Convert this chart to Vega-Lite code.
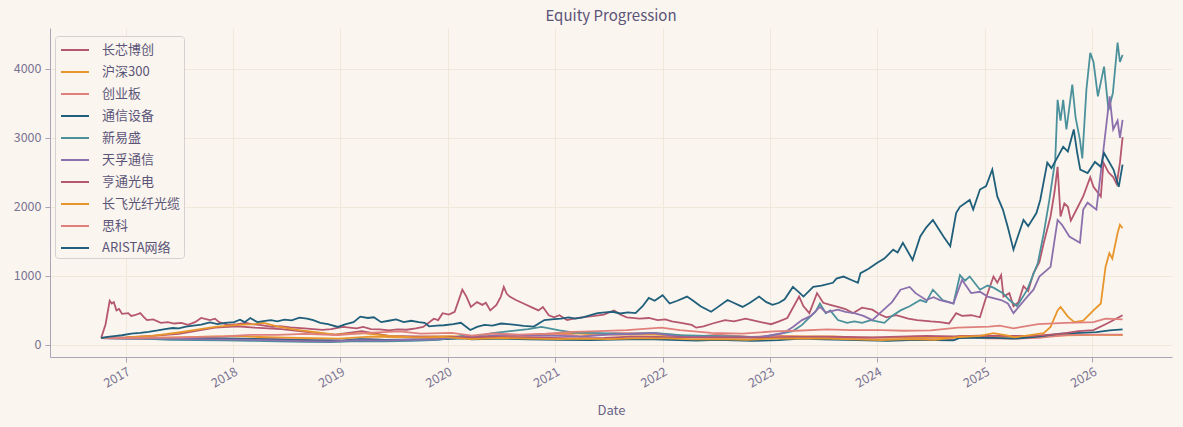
{
"$schema": "https://vega.github.io/schema/vega-lite/v6.json",
"width": 1183, "height": 427,
"autosize": {"type": "fit", "contains": "padding"},
"padding": {"left": 13, "right": 11, "top": 9, "bottom": 9},
"background": "#faf5ee",
"title": {"text": "Equity Progression", "fontSize": 15, "font": "Noto Sans CJK SC", "fontWeight": "normal", "color": "#5a5478", "offset": 4},
"config": {
  "view": {"stroke": null},
  "font": "Noto Sans CJK SC",
  "axis": {"gridColor": "#f1e8dc", "gridWidth": 1, "domainColor": "#aaa4b8", "tickColor": "#aaa4b8", "tickSize": 5, "labelColor": "#7a7494", "labelFontSize": 12.5, "titleColor": "#6a6488", "titleFontSize": 13, "titleFontWeight": "normal", "labelFont": "Noto Sans CJK SC", "titleFont": "Noto Sans CJK SC"},
  "legend": {"fillColor": "#faf5ee", "strokeColor": "#d6d0d0", "cornerRadius": 3, "padding": 3, "symbolType": "M-0.8,0H2", "symbolStrokeWidth": 2, "symbolSize": 400, "labelFontSize": 13, "labelColor": "#5a5478", "rowPadding": 4, "labelOffset": 22, "labelFont": "Noto Sans CJK SC"}
},
"data": {"values": [
{"s":"长芯博创","d":"2016-10-10","v":100},{"s":"长芯博创","d":"2016-10-25","v":300},{"s":"长芯博创","d":"2016-11-08","v":640},{"s":"长芯博创","d":"2016-11-15","v":600},{"s":"长芯博创","d":"2016-11-22","v":620},{"s":"长芯博创","d":"2016-12-01","v":500},{"s":"长芯博创","d":"2016-12-10","v":520},{"s":"长芯博创","d":"2016-12-20","v":450},{"s":"长芯博创","d":"2017-01-10","v":460},{"s":"长芯博创","d":"2017-01-20","v":420},{"s":"长芯博创","d":"2017-02-01","v":430},{"s":"长芯博创","d":"2017-02-20","v":460},{"s":"长芯博创","d":"2017-03-05","v":400},{"s":"长芯博创","d":"2017-03-15","v":360},{"s":"长芯博创","d":"2017-04-05","v":370},{"s":"长芯博创","d":"2017-05-01","v":320},{"s":"长芯博创","d":"2017-05-25","v":330},{"s":"长芯博创","d":"2017-06-15","v":310},{"s":"长芯博创","d":"2017-07-10","v":320},{"s":"长芯博创","d":"2017-08-01","v":290},{"s":"长芯博创","d":"2017-08-25","v":330},{"s":"长芯博创","d":"2017-09-15","v":390},{"s":"长芯博创","d":"2017-10-15","v":360},{"s":"长芯博创","d":"2017-11-01","v":380},{"s":"长芯博创","d":"2017-11-15","v":330},{"s":"长芯博创","d":"2017-12-15","v":290},{"s":"长芯博创","d":"2018-01-15","v":300},{"s":"长芯博创","d":"2018-02-15","v":320},{"s":"长芯博创","d":"2018-03-05","v":300},{"s":"长芯博创","d":"2018-04-01","v":290},{"s":"长芯博创","d":"2018-05-15","v":260},{"s":"长芯博创","d":"2018-06-10","v":270},{"s":"长芯博创","d":"2018-07-15","v":255},{"s":"长芯博创","d":"2018-09-01","v":240},{"s":"长芯博创","d":"2018-10-01","v":230},{"s":"长芯博创","d":"2018-11-01","v":217},{"s":"长芯博创","d":"2018-12-01","v":230},{"s":"长芯博创","d":"2019-01-10","v":260},{"s":"长芯博创","d":"2019-02-25","v":240},{"s":"长芯博创","d":"2019-03-20","v":260},{"s":"长芯博创","d":"2019-04-15","v":230},{"s":"长芯博创","d":"2019-05-15","v":225},{"s":"长芯博创","d":"2019-06-15","v":210},{"s":"长芯博创","d":"2019-07-15","v":225},{"s":"长芯博创","d":"2019-08-15","v":220},{"s":"长芯博创","d":"2019-09-15","v":240},{"s":"长芯博创","d":"2019-10-10","v":260},{"s":"长芯博创","d":"2019-11-15","v":380},{"s":"长芯博创","d":"2019-11-30","v":360},{"s":"长芯博创","d":"2019-12-15","v":460},{"s":"长芯博创","d":"2020-01-05","v":440},{"s":"长芯博创","d":"2020-01-25","v":480},{"s":"长芯博创","d":"2020-02-20","v":800},{"s":"长芯博创","d":"2020-03-05","v":700},{"s":"长芯博创","d":"2020-03-20","v":550},{"s":"长芯博创","d":"2020-04-10","v":620},{"s":"长芯博创","d":"2020-04-28","v":580},{"s":"长芯博创","d":"2020-05-10","v":610},{"s":"长芯博创","d":"2020-05-25","v":500},{"s":"长芯博创","d":"2020-06-15","v":580},{"s":"长芯博创","d":"2020-06-30","v":700},{"s":"长芯博创","d":"2020-07-10","v":840},{"s":"长芯博创","d":"2020-07-20","v":740},{"s":"长芯博创","d":"2020-07-30","v":700},{"s":"长芯博创","d":"2020-08-20","v":650},{"s":"长芯博创","d":"2020-09-15","v":600},{"s":"长芯博创","d":"2020-10-15","v":540},{"s":"长芯博创","d":"2020-11-05","v":500},{"s":"长芯博创","d":"2020-11-20","v":550},{"s":"长芯博创","d":"2020-12-10","v":430},{"s":"长芯博创","d":"2020-12-28","v":400},{"s":"长芯博创","d":"2021-01-15","v":430},{"s":"长芯博创","d":"2021-02-10","v":360},{"s":"长芯博创","d":"2021-03-05","v":380},{"s":"长芯博创","d":"2021-04-01","v":400},{"s":"长芯博创","d":"2021-05-15","v":420},{"s":"长芯博创","d":"2021-06-15","v":440},{"s":"长芯博创","d":"2021-07-20","v":500},{"s":"长芯博创","d":"2021-08-10","v":440},{"s":"长芯博创","d":"2021-09-01","v":400},{"s":"长芯博创","d":"2021-10-15","v":380},{"s":"长芯博创","d":"2021-11-15","v":390},{"s":"长芯博创","d":"2021-12-15","v":360},{"s":"长芯博创","d":"2022-01-10","v":370},{"s":"长芯博创","d":"2022-02-01","v":340},{"s":"长芯博创","d":"2022-03-05","v":320},{"s":"长芯博创","d":"2022-04-10","v":290},{"s":"长芯博创","d":"2022-04-25","v":250},{"s":"长芯博创","d":"2022-05-20","v":270},{"s":"长芯博创","d":"2022-06-20","v":310},{"s":"长芯博创","d":"2022-08-01","v":360},{"s":"长芯博创","d":"2022-09-01","v":340},{"s":"长芯博创","d":"2022-10-10","v":380},{"s":"长芯博创","d":"2022-11-01","v":360},{"s":"长芯博创","d":"2022-12-01","v":330},{"s":"长芯博创","d":"2023-01-05","v":300},{"s":"长芯博创","d":"2023-02-01","v":340},{"s":"长芯博创","d":"2023-03-01","v":390},{"s":"长芯博创","d":"2023-04-10","v":700},{"s":"长芯博创","d":"2023-04-25","v":560},{"s":"长芯博创","d":"2023-05-15","v":460},{"s":"长芯博创","d":"2023-06-10","v":750},{"s":"长芯博创","d":"2023-07-01","v":610},{"s":"长芯博创","d":"2023-07-25","v":580},{"s":"长芯博创","d":"2023-08-20","v":550},{"s":"长芯博创","d":"2023-09-15","v":520},{"s":"长芯博创","d":"2023-10-10","v":460},{"s":"长芯博创","d":"2023-11-10","v":540},{"s":"长芯博创","d":"2023-12-15","v":510},{"s":"长芯博创","d":"2024-01-10","v":440},{"s":"长芯博创","d":"2024-02-01","v":400},{"s":"长芯博创","d":"2024-03-05","v":430},{"s":"长芯博创","d":"2024-04-15","v":380},{"s":"长芯博创","d":"2024-05-15","v":360},{"s":"长芯博创","d":"2024-07-01","v":340},{"s":"长芯博创","d":"2024-08-01","v":330},{"s":"长芯博创","d":"2024-09-01","v":310},{"s":"长芯博创","d":"2024-09-25","v":460},{"s":"长芯博创","d":"2024-10-15","v":420},{"s":"长芯博创","d":"2024-11-15","v":430},{"s":"长芯博创","d":"2024-12-15","v":400},{"s":"长芯博创","d":"2025-01-02","v":650},{"s":"长芯博创","d":"2025-01-30","v":990},{"s":"长芯博创","d":"2025-02-12","v":900},{"s":"长芯博创","d":"2025-02-25","v":1010},{"s":"长芯博创","d":"2025-03-05","v":700},{"s":"长芯博创","d":"2025-03-25","v":750},{"s":"长芯博创","d":"2025-04-08","v":560},{"s":"长芯博创","d":"2025-04-25","v":620},{"s":"长芯博创","d":"2025-05-12","v":850},{"s":"长芯博创","d":"2025-05-28","v":780},{"s":"长芯博创","d":"2025-06-15","v":1040},{"s":"长芯博创","d":"2025-07-05","v":1200},{"s":"长芯博创","d":"2025-07-20","v":1480},{"s":"长芯博创","d":"2025-08-12","v":1860},{"s":"长芯博创","d":"2025-08-25","v":2200},{"s":"长芯博创","d":"2025-09-05","v":2580},{"s":"长芯博创","d":"2025-09-15","v":1860},{"s":"长芯博创","d":"2025-09-28","v":2050},{"s":"长芯博创","d":"2025-10-10","v":2000},{"s":"长芯博创","d":"2025-10-20","v":1800},{"s":"长芯博创","d":"2025-11-01","v":1900},{"s":"长芯博创","d":"2025-12-01","v":2150},{"s":"长芯博创","d":"2025-12-25","v":2430},{"s":"长芯博创","d":"2026-01-05","v":2290},{"s":"长芯博创","d":"2026-01-30","v":2150},{"s":"长芯博创","d":"2026-02-08","v":2640},{"s":"长芯博创","d":"2026-02-25","v":2500},{"s":"长芯博创","d":"2026-03-13","v":2430},{"s":"长芯博创","d":"2026-03-25","v":2330},{"s":"长芯博创","d":"2026-04-05","v":2640},{"s":"长芯博创","d":"2026-04-14","v":3010},

{"s":"沪深300","d":"2016-10-10","v":100},{"s":"沪深300","d":"2017-01-01","v":100},{"s":"沪深300","d":"2017-04-01","v":104},{"s":"沪深300","d":"2017-07-01","v":110},{"s":"沪深300","d":"2017-10-01","v":118},{"s":"沪深300","d":"2018-01-20","v":128},{"s":"沪深300","d":"2018-04-01","v":115},{"s":"沪深300","d":"2018-07-01","v":104},{"s":"沪深300","d":"2018-10-01","v":98},{"s":"沪深300","d":"2018-12-28","v":90},{"s":"沪深300","d":"2019-04-15","v":120},{"s":"沪深300","d":"2019-07-01","v":115},{"s":"沪深300","d":"2019-10-01","v":117},{"s":"沪深300","d":"2020-01-15","v":127},{"s":"沪深300","d":"2020-03-20","v":112},{"s":"沪深300","d":"2020-07-10","v":140},{"s":"沪深300","d":"2020-10-01","v":142},{"s":"沪深300","d":"2021-02-15","v":170},{"s":"沪深300","d":"2021-05-01","v":155},{"s":"沪深300","d":"2021-08-01","v":148},{"s":"沪深300","d":"2021-12-01","v":148},{"s":"沪深300","d":"2022-04-25","v":122},{"s":"沪深300","d":"2022-07-01","v":133},{"s":"沪深300","d":"2022-10-31","v":112},{"s":"沪深300","d":"2023-01-28","v":130},{"s":"沪深300","d":"2023-05-01","v":124},{"s":"沪深300","d":"2023-08-01","v":123},{"s":"沪深300","d":"2023-10-20","v":110},{"s":"沪深300","d":"2024-02-05","v":103},{"s":"沪深300","d":"2024-05-15","v":118},{"s":"沪深300","d":"2024-09-13","v":101},{"s":"沪深300","d":"2024-10-08","v":130},{"s":"沪深300","d":"2025-01-10","v":118},{"s":"沪深300","d":"2025-04-08","v":116},{"s":"沪深300","d":"2025-07-01","v":125},{"s":"沪深300","d":"2025-10-01","v":140},{"s":"沪深300","d":"2026-01-15","v":145},{"s":"沪深300","d":"2026-04-14","v":143},

{"s":"创业板","d":"2016-10-10","v":100},{"s":"创业板","d":"2017-01-15","v":92},{"s":"创业板","d":"2017-05-15","v":85},{"s":"创业板","d":"2017-07-15","v":85},{"s":"创业板","d":"2017-11-15","v":92},{"s":"创业板","d":"2018-01-31","v":82},{"s":"创业板","d":"2018-05-15","v":90},{"s":"创业板","d":"2018-08-01","v":75},{"s":"创业板","d":"2018-10-19","v":64},{"s":"创业板","d":"2019-01-04","v":60},{"s":"创业板","d":"2019-04-08","v":84},{"s":"创业板","d":"2019-06-01","v":71},{"s":"创业板","d":"2019-09-15","v":80},{"s":"创业板","d":"2020-02-24","v":105},{"s":"创业板","d":"2020-03-23","v":88},{"s":"创业板","d":"2020-07-13","v":128},{"s":"创业板","d":"2020-10-01","v":128},{"s":"创业板","d":"2021-02-18","v":148},{"s":"创业板","d":"2021-03-25","v":125},{"s":"创业板","d":"2021-07-20","v":170},{"s":"创业板","d":"2021-12-01","v":170},{"s":"创业板","d":"2022-04-26","v":118},{"s":"创业板","d":"2022-07-05","v":147},{"s":"创业板","d":"2022-10-31","v":117},{"s":"创业板","d":"2023-01-30","v":128},{"s":"创业板","d":"2023-05-01","v":115},{"s":"创业板","d":"2023-08-15","v":105},{"s":"创业板","d":"2023-10-23","v":92},{"s":"创业板","d":"2024-02-05","v":75},{"s":"创业板","d":"2024-05-15","v":90},{"s":"创业板","d":"2024-09-20","v":74},{"s":"创业板","d":"2024-10-08","v":115},{"s":"创业板","d":"2025-01-10","v":95},{"s":"创业板","d":"2025-04-08","v":90},{"s":"创业板","d":"2025-07-01","v":103},{"s":"创业板","d":"2025-09-15","v":135},{"s":"创业板","d":"2025-10-20","v":145},{"s":"创业板","d":"2026-01-15","v":150},{"s":"创业板","d":"2026-04-14","v":150},

{"s":"通信设备","d":"2016-10-10","v":100},{"s":"通信设备","d":"2017-01-01","v":96},{"s":"通信设备","d":"2017-04-01","v":100},{"s":"通信设备","d":"2017-07-01","v":95},{"s":"通信设备","d":"2017-10-01","v":97},{"s":"通信设备","d":"2018-01-15","v":92},{"s":"通信设备","d":"2018-04-01","v":85},{"s":"通信设备","d":"2018-07-01","v":72},{"s":"通信设备","d":"2018-10-19","v":65},{"s":"通信设备","d":"2019-01-04","v":62},{"s":"通信设备","d":"2019-03-08","v":85},{"s":"通信设备","d":"2019-06-01","v":72},{"s":"通信设备","d":"2019-09-01","v":78},{"s":"通信设备","d":"2019-12-01","v":80},{"s":"通信设备","d":"2020-02-25","v":95},{"s":"通信设备","d":"2020-03-23","v":80},{"s":"通信设备","d":"2020-07-10","v":90},{"s":"通信设备","d":"2020-10-01","v":80},{"s":"通信设备","d":"2021-01-15","v":72},{"s":"通信设备","d":"2021-05-01","v":70},{"s":"通信设备","d":"2021-09-01","v":80},{"s":"通信设备","d":"2021-12-01","v":82},{"s":"通信设备","d":"2022-04-26","v":62},{"s":"通信设备","d":"2022-07-05","v":72},{"s":"通信设备","d":"2022-10-31","v":60},{"s":"通信设备","d":"2023-01-30","v":68},{"s":"通信设备","d":"2023-04-15","v":90},{"s":"通信设备","d":"2023-07-01","v":80},{"s":"通信设备","d":"2023-10-23","v":70},{"s":"通信设备","d":"2024-02-05","v":58},{"s":"通信设备","d":"2024-05-15","v":72},{"s":"通信设备","d":"2024-09-15","v":65},{"s":"通信设备","d":"2024-10-08","v":100},{"s":"通信设备","d":"2025-01-10","v":105},{"s":"通信设备","d":"2025-04-08","v":90},{"s":"通信设备","d":"2025-07-01","v":120},{"s":"通信设备","d":"2025-09-15","v":165},{"s":"通信设备","d":"2025-11-01","v":170},{"s":"通信设备","d":"2026-01-15","v":185},{"s":"通信设备","d":"2026-03-01","v":210},{"s":"通信设备","d":"2026-04-14","v":225},

{"s":"新易盛","d":"2016-10-10","v":100},{"s":"新易盛","d":"2016-12-01","v":95},{"s":"新易盛","d":"2017-03-01","v":90},{"s":"新易盛","d":"2017-06-01","v":75},{"s":"新易盛","d":"2017-09-01","v":70},{"s":"新易盛","d":"2017-12-01","v":65},{"s":"新易盛","d":"2018-03-01","v":60},{"s":"新易盛","d":"2018-06-01","v":50},{"s":"新易盛","d":"2018-09-01","v":45},{"s":"新易盛","d":"2018-12-01","v":42},{"s":"新易盛","d":"2019-03-01","v":55},{"s":"新易盛","d":"2019-06-01","v":50},{"s":"新易盛","d":"2019-09-01","v":60},{"s":"新易盛","d":"2019-12-01","v":75},{"s":"新易盛","d":"2020-02-20","v":130},{"s":"新易盛","d":"2020-04-01","v":120},{"s":"新易盛","d":"2020-06-01","v":170},{"s":"新易盛","d":"2020-08-01","v":200},{"s":"新易盛","d":"2020-10-01","v":230},{"s":"新易盛","d":"2020-11-15","v":260},{"s":"新易盛","d":"2021-01-15","v":210},{"s":"新易盛","d":"2021-03-01","v":180},{"s":"新易盛","d":"2021-06-01","v":170},{"s":"新易盛","d":"2021-09-01","v":160},{"s":"新易盛","d":"2021-12-01","v":175},{"s":"新易盛","d":"2022-03-01","v":140},{"s":"新易盛","d":"2022-06-01","v":130},{"s":"新易盛","d":"2022-09-01","v":125},{"s":"新易盛","d":"2022-12-01","v":110},{"s":"新易盛","d":"2023-02-15","v":170},{"s":"新易盛","d":"2023-03-20","v":200},{"s":"新易盛","d":"2023-04-20","v":290},{"s":"新易盛","d":"2023-05-18","v":410},{"s":"新易盛","d":"2023-06-05","v":480},{"s":"新易盛","d":"2023-06-20","v":600},{"s":"新易盛","d":"2023-07-10","v":460},{"s":"新易盛","d":"2023-07-25","v":500},{"s":"新易盛","d":"2023-08-20","v":360},{"s":"新易盛","d":"2023-09-20","v":320},{"s":"新易盛","d":"2023-10-15","v":340},{"s":"新易盛","d":"2023-11-10","v":320},{"s":"新易盛","d":"2023-12-10","v":360},{"s":"新易盛","d":"2024-01-25","v":320},{"s":"新易盛","d":"2024-02-20","v":420},{"s":"新易盛","d":"2024-03-20","v":500},{"s":"新易盛","d":"2024-04-20","v":560},{"s":"新易盛","d":"2024-05-26","v":650},{"s":"新易盛","d":"2024-06-15","v":620},{"s":"新易盛","d":"2024-07-08","v":800},{"s":"新易盛","d":"2024-08-10","v":650},{"s":"新易盛","d":"2024-09-16","v":600},{"s":"新易盛","d":"2024-10-08","v":1010},{"s":"新易盛","d":"2024-10-25","v":930},{"s":"新易盛","d":"2024-11-10","v":990},{"s":"新易盛","d":"2024-12-15","v":800},{"s":"新易盛","d":"2025-01-10","v":860},{"s":"新易盛","d":"2025-01-30","v":830},{"s":"新易盛","d":"2025-03-03","v":750},{"s":"新易盛","d":"2025-03-25","v":650},{"s":"新易盛","d":"2025-04-20","v":560},{"s":"新易盛","d":"2025-05-25","v":800},{"s":"新易盛","d":"2025-06-30","v":1190},{"s":"新易盛","d":"2025-07-20","v":1620},{"s":"新易盛","d":"2025-08-08","v":2100},{"s":"新易盛","d":"2025-08-28","v":2680},{"s":"新易盛","d":"2025-09-05","v":3550},{"s":"新易盛","d":"2025-09-15","v":3250},{"s":"新易盛","d":"2025-09-24","v":3550},{"s":"新易盛","d":"2025-10-05","v":3120},{"s":"新易盛","d":"2025-10-25","v":3770},{"s":"新易盛","d":"2025-11-05","v":3300},{"s":"新易盛","d":"2025-11-20","v":2970},{"s":"新易盛","d":"2025-11-28","v":2700},{"s":"新易盛","d":"2025-12-12","v":3700},{"s":"新易盛","d":"2025-12-25","v":4230},{"s":"新易盛","d":"2026-01-05","v":4100},{"s":"新易盛","d":"2026-01-20","v":3600},{"s":"新易盛","d":"2026-02-10","v":4030},{"s":"新易盛","d":"2026-02-25","v":3400},{"s":"新易盛","d":"2026-03-12","v":3650},{"s":"新易盛","d":"2026-03-28","v":4380},{"s":"新易盛","d":"2026-04-05","v":4100},{"s":"新易盛","d":"2026-04-14","v":4200},

{"s":"天孚通信","d":"2016-10-10","v":100},{"s":"天孚通信","d":"2016-12-01","v":95},{"s":"天孚通信","d":"2017-03-01","v":100},{"s":"天孚通信","d":"2017-06-01","v":90},{"s":"天孚通信","d":"2017-09-01","v":85},{"s":"天孚通信","d":"2017-12-01","v":80},{"s":"天孚通信","d":"2018-03-01","v":75},{"s":"天孚通信","d":"2018-06-01","v":65},{"s":"天孚通信","d":"2018-09-01","v":55},{"s":"天孚通信","d":"2018-12-01","v":50},{"s":"天孚通信","d":"2019-03-01","v":70},{"s":"天孚通信","d":"2019-06-01","v":65},{"s":"天孚通信","d":"2019-09-01","v":75},{"s":"天孚通信","d":"2019-12-01","v":85},{"s":"天孚通信","d":"2020-02-20","v":120},{"s":"天孚通信","d":"2020-04-01","v":110},{"s":"天孚通信","d":"2020-07-10","v":150},{"s":"天孚通信","d":"2020-10-01","v":140},{"s":"天孚通信","d":"2021-01-15","v":130},{"s":"天孚通信","d":"2021-04-01","v":120},{"s":"天孚通信","d":"2021-07-01","v":150},{"s":"天孚通信","d":"2021-10-01","v":160},{"s":"天孚通信","d":"2021-12-01","v":170},{"s":"天孚通信","d":"2022-03-01","v":120},{"s":"天孚通信","d":"2022-06-01","v":115},{"s":"天孚通信","d":"2022-09-01","v":110},{"s":"天孚通信","d":"2022-12-01","v":115},{"s":"天孚通信","d":"2023-02-15","v":170},{"s":"天孚通信","d":"2023-03-20","v":260},{"s":"天孚通信","d":"2023-04-20","v":360},{"s":"天孚通信","d":"2023-05-20","v":420},{"s":"天孚通信","d":"2023-06-20","v":550},{"s":"天孚通信","d":"2023-07-10","v":470},{"s":"天孚通信","d":"2023-08-20","v":510},{"s":"天孚通信","d":"2023-09-15","v":480},{"s":"天孚通信","d":"2023-10-15","v":460},{"s":"天孚通信","d":"2023-11-15","v":420},{"s":"天孚通信","d":"2023-12-15","v":360},{"s":"天孚通信","d":"2024-01-20","v":500},{"s":"天孚通信","d":"2024-02-20","v":620},{"s":"天孚通信","d":"2024-03-20","v":800},{"s":"天孚通信","d":"2024-04-20","v":840},{"s":"天孚通信","d":"2024-05-10","v":750},{"s":"天孚通信","d":"2024-06-15","v":650},{"s":"天孚通信","d":"2024-07-10","v":690},{"s":"天孚通信","d":"2024-08-01","v":650},{"s":"天孚通信","d":"2024-09-16","v":600},{"s":"天孚通信","d":"2024-10-15","v":940},{"s":"天孚通信","d":"2024-11-15","v":750},{"s":"天孚通信","d":"2024-12-15","v":770},{"s":"天孚通信","d":"2025-01-10","v":700},{"s":"天孚通信","d":"2025-02-25","v":650},{"s":"天孚通信","d":"2025-03-20","v":600},{"s":"天孚通信","d":"2025-04-08","v":460},{"s":"天孚通信","d":"2025-05-25","v":700},{"s":"天孚通信","d":"2025-06-15","v":800},{"s":"天孚通信","d":"2025-07-05","v":990},{"s":"天孚通信","d":"2025-08-12","v":1130},{"s":"天孚通信","d":"2025-09-05","v":1810},{"s":"天孚通信","d":"2025-09-20","v":1740},{"s":"天孚通信","d":"2025-10-15","v":1570},{"s":"天孚通信","d":"2025-11-20","v":1480},{"s":"天孚通信","d":"2025-12-01","v":1960},{"s":"天孚通信","d":"2025-12-16","v":2060},{"s":"天孚通信","d":"2026-01-15","v":1960},{"s":"天孚通信","d":"2026-02-08","v":2830},{"s":"天孚通信","d":"2026-03-01","v":3600},{"s":"天孚通信","d":"2026-03-13","v":3120},{"s":"天孚通信","d":"2026-03-28","v":3250},{"s":"天孚通信","d":"2026-04-05","v":3000},{"s":"天孚通信","d":"2026-04-14","v":3260},

{"s":"亨通光电","d":"2016-10-10","v":100},{"s":"亨通光电","d":"2017-01-01","v":110},{"s":"亨通光电","d":"2017-04-01","v":130},{"s":"亨通光电","d":"2017-07-01","v":160},{"s":"亨通光电","d":"2017-11-01","v":250},{"s":"亨通光电","d":"2018-01-15","v":270},{"s":"亨通光电","d":"2018-03-15","v":250},{"s":"亨通光电","d":"2018-06-15","v":230},{"s":"亨通光电","d":"2018-10-15","v":170},{"s":"亨通光电","d":"2018-12-15","v":150},{"s":"亨通光电","d":"2019-03-15","v":200},{"s":"亨通光电","d":"2019-06-15","v":130},{"s":"亨通光电","d":"2019-09-15","v":125},{"s":"亨通光电","d":"2019-12-15","v":120},{"s":"亨通光电","d":"2020-03-15","v":110},{"s":"亨通光电","d":"2020-06-15","v":115},{"s":"亨通光电","d":"2020-09-15","v":105},{"s":"亨通光电","d":"2020-12-15","v":100},{"s":"亨通光电","d":"2021-03-15","v":95},{"s":"亨通光电","d":"2021-06-15","v":100},{"s":"亨通光电","d":"2021-09-15","v":120},{"s":"亨通光电","d":"2021-12-15","v":115},{"s":"亨通光电","d":"2022-03-15","v":110},{"s":"亨通光电","d":"2022-06-15","v":105},{"s":"亨通光电","d":"2022-09-15","v":110},{"s":"亨通光电","d":"2022-12-15","v":100},{"s":"亨通光电","d":"2023-03-15","v":115},{"s":"亨通光电","d":"2023-06-15","v":120},{"s":"亨通光电","d":"2023-09-15","v":115},{"s":"亨通光电","d":"2023-12-15","v":110},{"s":"亨通光电","d":"2024-03-15","v":120},{"s":"亨通光电","d":"2024-06-15","v":130},{"s":"亨通光电","d":"2024-09-15","v":125},{"s":"亨通光电","d":"2024-12-15","v":135},{"s":"亨通光电","d":"2025-03-15","v":130},{"s":"亨通光电","d":"2025-06-15","v":130},{"s":"亨通光电","d":"2025-09-15","v":160},{"s":"亨通光电","d":"2025-11-15","v":200},{"s":"亨通光电","d":"2026-01-05","v":215},{"s":"亨通光电","d":"2026-02-15","v":300},{"s":"亨通光电","d":"2026-03-15","v":360},{"s":"亨通光电","d":"2026-04-14","v":430},

{"s":"长飞光纤光缆","d":"2016-10-10","v":100},{"s":"长飞光纤光缆","d":"2017-01-01","v":110},{"s":"长飞光纤光缆","d":"2017-04-01","v":130},{"s":"长飞光纤光缆","d":"2017-07-01","v":180},{"s":"长飞光纤光缆","d":"2017-09-01","v":220},{"s":"长飞光纤光缆","d":"2017-11-01","v":260},{"s":"长飞光纤光缆","d":"2018-01-15","v":290},{"s":"长飞光纤光缆","d":"2018-03-15","v":300},{"s":"长飞光纤光缆","d":"2018-04-15","v":320},{"s":"长飞光纤光缆","d":"2018-06-01","v":270},{"s":"长飞光纤光缆","d":"2018-08-01","v":220},{"s":"长飞光纤光缆","d":"2018-10-15","v":180},{"s":"长飞光纤光缆","d":"2018-12-15","v":150},{"s":"长飞光纤光缆","d":"2019-03-15","v":170},{"s":"长飞光纤光缆","d":"2019-06-15","v":130},{"s":"长飞光纤光缆","d":"2019-09-15","v":110},{"s":"长飞光纤光缆","d":"2019-12-15","v":115},{"s":"长飞光纤光缆","d":"2020-03-20","v":85},{"s":"长飞光纤光缆","d":"2020-07-01","v":100},{"s":"长飞光纤光缆","d":"2020-10-01","v":90},{"s":"长飞光纤光缆","d":"2021-01-15","v":85},{"s":"长飞光纤光缆","d":"2021-04-01","v":90},{"s":"长飞光纤光缆","d":"2021-07-01","v":85},{"s":"长飞光纤光缆","d":"2021-10-01","v":95},{"s":"长飞光纤光缆","d":"2022-01-15","v":95},{"s":"长飞光纤光缆","d":"2022-04-15","v":80},{"s":"长飞光纤光缆","d":"2022-07-15","v":85},{"s":"长飞光纤光缆","d":"2022-10-15","v":75},{"s":"长飞光纤光缆","d":"2023-01-15","v":90},{"s":"长飞光纤光缆","d":"2023-04-15","v":95},{"s":"长飞光纤光缆","d":"2023-07-15","v":90},{"s":"长飞光纤光缆","d":"2023-10-15","v":80},{"s":"长飞光纤光缆","d":"2024-01-15","v":70},{"s":"长飞光纤光缆","d":"2024-04-15","v":85},{"s":"长飞光纤光缆","d":"2024-07-15","v":75},{"s":"长飞光纤光缆","d":"2024-10-08","v":115},{"s":"长飞光纤光缆","d":"2024-12-15","v":130},{"s":"长飞光纤光缆","d":"2025-01-30","v":170},{"s":"长飞光纤光缆","d":"2025-03-25","v":130},{"s":"长飞光纤光缆","d":"2025-04-10","v":110},{"s":"长飞光纤光缆","d":"2025-06-15","v":150},{"s":"长飞光纤光缆","d":"2025-07-20","v":170},{"s":"长飞光纤光缆","d":"2025-08-12","v":260},{"s":"长飞光纤光缆","d":"2025-09-05","v":500},{"s":"长飞光纤光缆","d":"2025-09-15","v":550},{"s":"长飞光纤光缆","d":"2025-10-10","v":410},{"s":"长飞光纤光缆","d":"2025-11-01","v":330},{"s":"长飞光纤光缆","d":"2025-12-01","v":350},{"s":"长飞光纤光缆","d":"2026-01-05","v":500},{"s":"长飞光纤光缆","d":"2026-01-30","v":600},{"s":"长飞光纤光缆","d":"2026-02-15","v":1130},{"s":"长飞光纤光缆","d":"2026-02-28","v":1330},{"s":"长飞光纤光缆","d":"2026-03-10","v":1250},{"s":"长飞光纤光缆","d":"2026-03-28","v":1620},{"s":"长飞光纤光缆","d":"2026-04-05","v":1740},{"s":"长飞光纤光缆","d":"2026-04-14","v":1690},

{"s":"思科","d":"2016-10-10","v":100},{"s":"思科","d":"2017-01-01","v":100},{"s":"思科","d":"2017-06-01","v":105},{"s":"思科","d":"2017-12-01","v":125},{"s":"思科","d":"2018-03-01","v":145},{"s":"思科","d":"2018-06-01","v":145},{"s":"思科","d":"2018-09-01","v":160},{"s":"思科","d":"2018-12-24","v":142},{"s":"思科","d":"2019-04-01","v":175},{"s":"思科","d":"2019-07-22","v":195},{"s":"思科","d":"2019-10-01","v":165},{"s":"思科","d":"2020-01-15","v":175},{"s":"思科","d":"2020-03-23","v":135},{"s":"思科","d":"2020-06-01","v":165},{"s":"思科","d":"2020-09-01","v":150},{"s":"思科","d":"2020-12-01","v":165},{"s":"思科","d":"2021-03-01","v":190},{"s":"思科","d":"2021-06-01","v":200},{"s":"思科","d":"2021-09-01","v":215},{"s":"思科","d":"2021-12-28","v":250},{"s":"思科","d":"2022-03-01","v":215},{"s":"思科","d":"2022-06-15","v":175},{"s":"思科","d":"2022-09-30","v":165},{"s":"思科","d":"2023-01-15","v":195},{"s":"思科","d":"2023-04-01","v":205},{"s":"思科","d":"2023-07-15","v":225},{"s":"思科","d":"2023-10-01","v":215},{"s":"思科","d":"2024-01-15","v":215},{"s":"思科","d":"2024-04-01","v":205},{"s":"思科","d":"2024-07-01","v":210},{"s":"思科","d":"2024-10-01","v":250},{"s":"思科","d":"2025-01-15","v":265},{"s":"思科","d":"2025-02-20","v":280},{"s":"思科","d":"2025-04-08","v":240},{"s":"思科","d":"2025-07-01","v":300},{"s":"思科","d":"2025-10-01","v":320},{"s":"思科","d":"2026-01-05","v":330},{"s":"思科","d":"2026-02-15","v":380},{"s":"思科","d":"2026-04-14","v":370},

{"s":"ARISTA网络","d":"2016-10-10","v":100},{"s":"ARISTA网络","d":"2016-11-01","v":115},{"s":"ARISTA网络","d":"2016-12-01","v":130},{"s":"ARISTA网络","d":"2016-12-20","v":140},{"s":"ARISTA网络","d":"2017-01-20","v":165},{"s":"ARISTA网络","d":"2017-02-20","v":175},{"s":"ARISTA网络","d":"2017-03-20","v":190},{"s":"ARISTA网络","d":"2017-04-20","v":210},{"s":"ARISTA网络","d":"2017-05-15","v":230},{"s":"ARISTA网络","d":"2017-06-10","v":245},{"s":"ARISTA网络","d":"2017-07-01","v":240},{"s":"ARISTA网络","d":"2017-07-25","v":265},{"s":"ARISTA网络","d":"2017-08-20","v":280},{"s":"ARISTA网络","d":"2017-09-15","v":295},{"s":"ARISTA网络","d":"2017-10-15","v":325},{"s":"ARISTA网络","d":"2017-11-10","v":300},{"s":"ARISTA网络","d":"2017-12-05","v":320},{"s":"ARISTA网络","d":"2018-01-05","v":330},{"s":"ARISTA网络","d":"2018-01-25","v":365},{"s":"ARISTA网络","d":"2018-02-10","v":330},{"s":"ARISTA网络","d":"2018-03-01","v":390},{"s":"ARISTA网络","d":"2018-03-25","v":330},{"s":"ARISTA网络","d":"2018-04-15","v":345},{"s":"ARISTA网络","d":"2018-05-10","v":360},{"s":"ARISTA网络","d":"2018-06-01","v":340},{"s":"ARISTA网络","d":"2018-06-25","v":365},{"s":"ARISTA网络","d":"2018-07-20","v":355},{"s":"ARISTA网络","d":"2018-08-15","v":395},{"s":"ARISTA网络","d":"2018-09-10","v":380},{"s":"ARISTA网络","d":"2018-10-01","v":360},{"s":"ARISTA网络","d":"2018-10-25","v":320},{"s":"ARISTA网络","d":"2018-11-20","v":300},{"s":"ARISTA网络","d":"2018-12-24","v":260},{"s":"ARISTA网络","d":"2019-01-20","v":300},{"s":"ARISTA网络","d":"2019-02-15","v":330},{"s":"ARISTA网络","d":"2019-03-10","v":410},{"s":"ARISTA网络","d":"2019-04-05","v":390},{"s":"ARISTA网络","d":"2019-04-25","v":400},{"s":"ARISTA网络","d":"2019-05-20","v":330},{"s":"ARISTA网络","d":"2019-06-15","v":350},{"s":"ARISTA网络","d":"2019-07-10","v":370},{"s":"ARISTA网络","d":"2019-08-05","v":330},{"s":"ARISTA网络","d":"2019-08-30","v":350},{"s":"ARISTA网络","d":"2019-09-25","v":330},{"s":"ARISTA网络","d":"2019-10-15","v":320},{"s":"ARISTA网络","d":"2019-10-30","v":270},{"s":"ARISTA网络","d":"2019-11-25","v":280},{"s":"ARISTA网络","d":"2019-12-20","v":285},{"s":"ARISTA网络","d":"2020-01-20","v":300},{"s":"ARISTA网络","d":"2020-02-15","v":320},{"s":"ARISTA网络","d":"2020-03-18","v":215},{"s":"ARISTA网络","d":"2020-04-10","v":260},{"s":"ARISTA网络","d":"2020-05-05","v":290},{"s":"ARISTA网络","d":"2020-06-01","v":280},{"s":"ARISTA网络","d":"2020-07-01","v":310},{"s":"ARISTA网络","d":"2020-07-25","v":300},{"s":"ARISTA网络","d":"2020-08-20","v":290},{"s":"ARISTA网络","d":"2020-09-15","v":275},{"s":"ARISTA网络","d":"2020-10-20","v":265},{"s":"ARISTA网络","d":"2020-11-10","v":320},{"s":"ARISTA网络","d":"2020-11-25","v":360},{"s":"ARISTA网络","d":"2020-12-20","v":370},{"s":"ARISTA网络","d":"2021-01-20","v":380},{"s":"ARISTA网络","d":"2021-02-15","v":400},{"s":"ARISTA网络","d":"2021-03-10","v":380},{"s":"ARISTA网络","d":"2021-04-05","v":400},{"s":"ARISTA网络","d":"2021-05-01","v":430},{"s":"ARISTA网络","d":"2021-05-25","v":460},{"s":"ARISTA网络","d":"2021-06-20","v":470},{"s":"ARISTA网络","d":"2021-07-15","v":480},{"s":"ARISTA网络","d":"2021-08-10","v":455},{"s":"ARISTA网络","d":"2021-09-05","v":470},{"s":"ARISTA网络","d":"2021-10-01","v":460},{"s":"ARISTA网络","d":"2021-10-25","v":560},{"s":"ARISTA网络","d":"2021-11-15","v":680},{"s":"ARISTA网络","d":"2021-12-05","v":640},{"s":"ARISTA网络","d":"2022-01-01","v":720},{"s":"ARISTA网络","d":"2022-01-25","v":600},{"s":"ARISTA网络","d":"2022-02-20","v":640},{"s":"ARISTA网络","d":"2022-03-25","v":700},{"s":"ARISTA网络","d":"2022-04-15","v":640},{"s":"ARISTA网络","d":"2022-05-10","v":560},{"s":"ARISTA网络","d":"2022-06-15","v":480},{"s":"ARISTA网络","d":"2022-07-05","v":540},{"s":"ARISTA网络","d":"2022-08-10","v":650},{"s":"ARISTA网络","d":"2022-08-30","v":610},{"s":"ARISTA网络","d":"2022-09-30","v":550},{"s":"ARISTA网络","d":"2022-10-25","v":610},{"s":"ARISTA网络","d":"2022-11-25","v":700},{"s":"ARISTA网络","d":"2022-12-20","v":620},{"s":"ARISTA网络","d":"2023-01-10","v":580},{"s":"ARISTA网络","d":"2023-02-01","v":610},{"s":"ARISTA网络","d":"2023-02-20","v":660},{"s":"ARISTA网络","d":"2023-03-20","v":840},{"s":"ARISTA网络","d":"2023-04-10","v":760},{"s":"ARISTA网络","d":"2023-04-25","v":700},{"s":"ARISTA网络","d":"2023-05-28","v":840},{"s":"ARISTA网络","d":"2023-06-25","v":860},{"s":"ARISTA网络","d":"2023-08-03","v":900},{"s":"ARISTA网络","d":"2023-08-15","v":960},{"s":"ARISTA网络","d":"2023-09-08","v":990},{"s":"ARISTA网络","d":"2023-10-05","v":940},{"s":"ARISTA网络","d":"2023-10-27","v":900},{"s":"ARISTA网络","d":"2023-11-05","v":1040},{"s":"ARISTA网络","d":"2023-12-01","v":1100},{"s":"ARISTA网络","d":"2024-01-01","v":1190},{"s":"ARISTA网络","d":"2024-01-25","v":1250},{"s":"ARISTA网络","d":"2024-02-24","v":1380},{"s":"ARISTA网络","d":"2024-03-10","v":1340},{"s":"ARISTA网络","d":"2024-03-28","v":1480},{"s":"ARISTA网络","d":"2024-04-30","v":1230},{"s":"ARISTA网络","d":"2024-05-26","v":1570},{"s":"ARISTA网络","d":"2024-06-15","v":1700},{"s":"ARISTA网络","d":"2024-07-08","v":1810},{"s":"ARISTA网络","d":"2024-08-13","v":1570},{"s":"ARISTA网络","d":"2024-09-05","v":1430},{"s":"ARISTA网络","d":"2024-09-25","v":1910},{"s":"ARISTA网络","d":"2024-10-08","v":2000},{"s":"ARISTA网络","d":"2024-11-10","v":2100},{"s":"ARISTA网络","d":"2024-11-22","v":1960},{"s":"ARISTA网络","d":"2024-12-15","v":2250},{"s":"ARISTA网络","d":"2025-01-05","v":2300},{"s":"ARISTA网络","d":"2025-01-26","v":2540},{"s":"ARISTA网络","d":"2025-02-12","v":2150},{"s":"ARISTA网络","d":"2025-03-03","v":1960},{"s":"ARISTA网络","d":"2025-03-20","v":1700},{"s":"ARISTA网络","d":"2025-04-08","v":1380},{"s":"ARISTA网络","d":"2025-04-25","v":1600},{"s":"ARISTA网络","d":"2025-05-12","v":1810},{"s":"ARISTA网络","d":"2025-05-28","v":1720},{"s":"ARISTA网络","d":"2025-06-25","v":1910},{"s":"ARISTA网络","d":"2025-07-08","v":2100},{"s":"ARISTA网络","d":"2025-08-01","v":2640},{"s":"ARISTA网络","d":"2025-08-15","v":2560},{"s":"ARISTA网络","d":"2025-09-05","v":2720},{"s":"ARISTA网络","d":"2025-09-24","v":2870},{"s":"ARISTA网络","d":"2025-10-10","v":2800},{"s":"ARISTA网络","d":"2025-10-30","v":3120},{"s":"ARISTA网络","d":"2025-11-10","v":2800},{"s":"ARISTA网络","d":"2025-11-21","v":2540},{"s":"ARISTA网络","d":"2025-12-16","v":2490},{"s":"ARISTA网络","d":"2026-01-10","v":2650},{"s":"ARISTA网络","d":"2026-01-30","v":2580},{"s":"ARISTA网络","d":"2026-02-10","v":2780},{"s":"ARISTA网络","d":"2026-03-14","v":2540},{"s":"ARISTA网络","d":"2026-04-01","v":2290},{"s":"ARISTA网络","d":"2026-04-14","v":2610}
]},
"mark": {"type": "line", "strokeWidth": 1.8},
"encoding": {
  "x": {"field": "d", "type": "temporal", "title": "Date",
    "scale": {"domain": [{"year": 2016, "month": 4, "date": 19}, {"year": 2026, "month": 9, "date": 29}]},
    "axis": {"format": "%Y", "tickCount": {"interval": "year", "step": 1}, "labelAngle": -30, "labelAlign": "right", "labelBaseline": "top", "labelPadding": 3, "titlePadding": 15, "grid": true}},
  "y": {"field": "v", "type": "quantitative", "title": null,
    "scale": {"domain": [-175, 4590], "nice": false, "zero": false},
    "axis": {"values": [0, 1000, 2000, 3000, 4000], "format": "d", "grid": true, "labelPadding": 4}},
  "color": {"field": "s", "type": "nominal",
    "scale": {"domain": ["长芯博创", "沪深300", "创业板", "通信设备", "新易盛", "天孚通信", "亨通光电", "长飞光纤光缆", "思科", "ARISTA网络"],
      "range": ["#b5576f", "#e8962c", "#e0807c", "#1f5f7b", "#4b919c", "#8c70ad", "#b5576f", "#e8962c", "#e0807c", "#1f5f7b"]},
    "legend": {"title": null, "orient": "none", "legendX": 5, "legendY": 8}}
}
}
